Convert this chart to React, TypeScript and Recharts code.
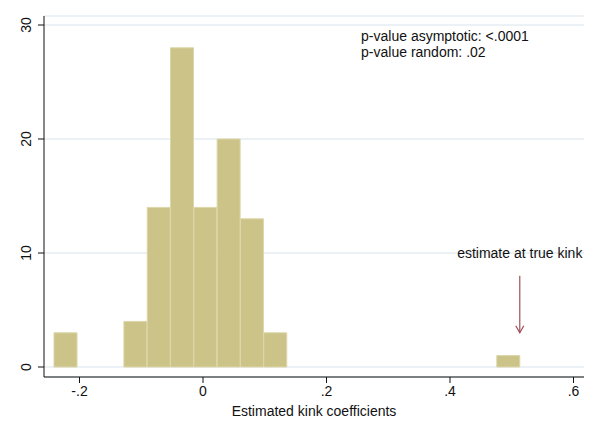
import { Bar, CartesianGrid, ComposedChart, ReferenceDot, ReferenceLine, XAxis, YAxis } from 'recharts';

// histogram bins: 20 bins of width ~0.0377 starting at -0.2413
const binStart = -0.2413;
const binWidth = 0.03774;
const binCounts = [3, 0, 0, 4, 14, 28, 14, 20, 13, 3, 0, 0, 0, 0, 0, 0, 0, 0, 0, 1];

const xTicks = [-0.2, 0, 0.2, 0.4, 0.6];
const yTicks = [0, 10, 20, 30];

const trueKink = 0.513;
const arrowFrom = 8;
const arrowTo = 3;
const kinkLabel = 'estimate at true kink';
const kinkLabelY = 10;

const pValueLines = ['p-value asymptotic: <.0001', 'p-value random: .02'];
const pValueX = 0.256;
const pValueY = 29;

const histData = binCounts.map((count, i) => ({
    mid: binStart + binWidth * (i + 0.5),
    count,
}));

const fmtX = (v: number) => {
    if (v === 0) return '0';
    const s = String(Math.round(v * 10) / 10);
    return s.replace('0.', '.');
};

const FONT = 'Liberation Sans, Arial, Helvetica, sans-serif';

function YTick({ x, y, payload }: any) {
    return (
        <text
            x={x - 4}
            y={y}
            transform={`rotate(-90, ${x - 10}, ${y})`}
            textAnchor="middle"
            fontSize={14}
            fontFamily={FONT}
            fill="#111"
            dominantBaseline="central"
        >
            <tspan x={x - 10} y={y}>{payload.value}</tspan>
        </text>
    );
}

function XTick({ x, y, payload }: any) {
    return (
        <text x={x} y={y + 11} textAnchor="middle" fontSize={14} fontFamily={FONT} fill="#111">
            {fmtX(payload.value)}
        </text>
    );
}

function Arrow({ x1, y1, x2, y2 }: any) {
    const c = '#9e4f5b';
    return (
        <g>
            <line x1={x1} y1={y1} x2={x2} y2={y2} stroke={c} strokeWidth={1.2} />
            <polyline points={`${x2 - 4},${y2 - 7} ${x2},${y2} ${x2 + 4},${y2 - 7}`} fill="none" stroke={c} strokeWidth={1.2} />
        </g>
    );
}

export default function App() {
    return (
        <div style={{ position: 'absolute', left: 0, top: 0, width: 600, height: 436, background: '#fff' }}>
            <ComposedChart
                width={600}
                height={436}
                data={histData}
                margin={{ top: 16, right: 16, bottom: 0, left: 0 }}
                barCategoryGap={0}
                barGap={0}
            >
                <CartesianGrid vertical={false} stroke="#e4edf0" strokeWidth={1.5} />
                <XAxis
                    dataKey="mid"
                    type="number"
                    domain={[-0.2575, 0.617]}
                    ticks={xTicks}
                    allowDataOverflow
                    height={59}
                    stroke="#111"
                    tickSize={6}
                    tick={<XTick />}
                    label={{ value: 'Estimated kink coefficients', position: 'insideBottom', offset: 20, fontSize: 14, fill: '#111', fontFamily: FONT }}
                />
                <YAxis
                    type="number"
                    domain={[-0.877, 30.79]}
                    ticks={yTicks}
                    allowDataOverflow
                    width={44}
                    stroke="#111"
                    tickSize={6}
                    tick={<YTick />}
                />
                <Bar dataKey="count" fill="#cbc387" stroke="#dcd6aa" strokeWidth={1} isAnimationActive={false} />
                <ReferenceLine
                    segment={[{ x: trueKink, y: arrowFrom }, { x: trueKink, y: arrowTo }]}
                    shape={<Arrow />}
                />
                <ReferenceDot
                    x={trueKink}
                    y={kinkLabelY}
                    r={0}
                    shape={({ cx, cy }: any) => (
                        <text x={cx} y={cy} textAnchor="middle" dominantBaseline="central" fontSize={14} fontFamily={FONT} fill="#111">
                            {kinkLabel}
                        </text>
                    )}
                />
                <ReferenceDot
                    x={pValueX}
                    y={pValueY}
                    r={0}
                    shape={({ cx, cy }: any) => (
                        <text fontSize={14} fontFamily={FONT} fill="#111">
                            {pValueLines.map((t, i) => (
                                <tspan key={i} x={cx} y={cy + 5 + i * 16}>{t}</tspan>
                            ))}
                        </text>
                    )}
                />
            </ComposedChart>
        </div>
    );
}
